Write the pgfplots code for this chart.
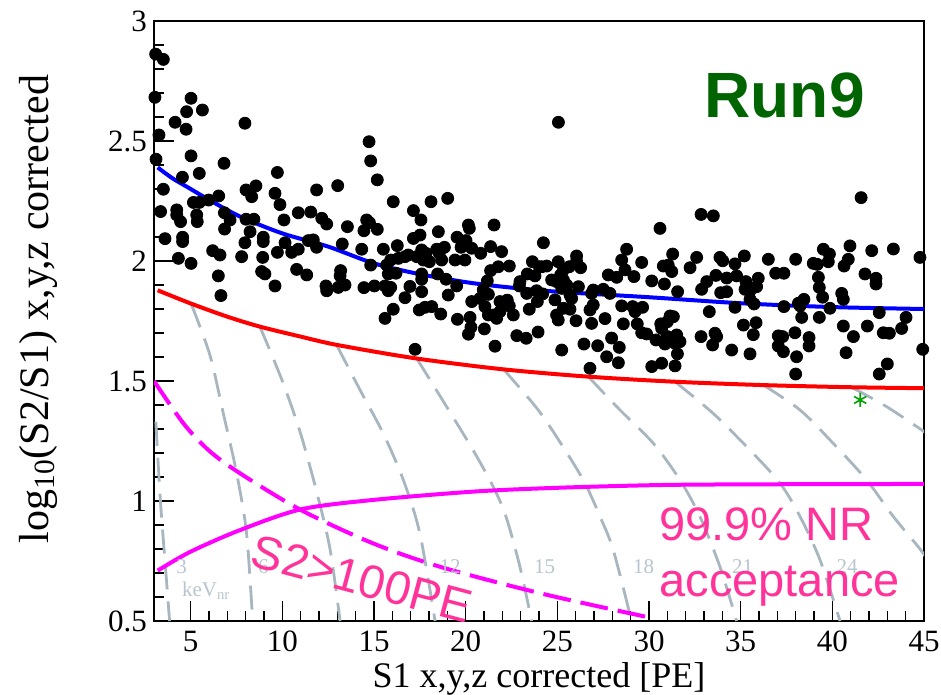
\documentclass[border=0pt]{standalone}
\usepackage{pgfplots}
\pgfplotsset{compat=1.18}
\usepackage{fontspec}
\setmainfont{Liberation Serif}
\newfontfamily\arialfont{Liberation Sans}
\definecolor{cblue}{RGB}{0,0,255}
\definecolor{cred}{RGB}{255,0,0}
\definecolor{cmag}{RGB}{255,0,255}
\definecolor{cgray}{RGB}{168,182,192}
\definecolor{clab}{RGB}{185,197,206}
\definecolor{cpink}{RGB}{255,51,153}
\definecolor{cdgreen}{RGB}{0,100,0}
\definecolor{cstar}{RGB}{0,160,0}
\pgfplotstableread{
x y
3.09 2.862
3.51 2.840
3.05 2.682
5.02 2.678
4.78 2.622
5.64 2.629
4.15 2.578
4.75 2.549
7.96 2.574
3.27 2.525
14.73 2.497
3.11 2.424
5.02 2.438
14.82 2.417
6.82 2.407
4.55 2.349
5.47 2.365
9.73 2.369
15.18 2.338
3.51 2.299
8.02 2.296
8.56 2.313
9.60 2.282
11.87 2.296
13.02 2.314
6.53 2.271
5.98 2.254
5.15 2.244
5.47 2.244
8.33 2.268
9.87 2.235
16.05 2.247
18.11 2.247
19.02 2.261
3.36 2.206
4.24 2.213
4.24 2.192
6.84 2.201
8.02 2.174
8.45 2.174
10.87 2.201
11.55 2.204
17.15 2.210
5.33 2.192
5.36 2.164
7.15 2.171
4.45 2.164
10.09 2.171
12.15 2.178
12.42 2.154
14.60 2.171
14.75 2.160
17.56 2.171
6.85 2.133
8.24 2.122
13.55 2.143
14.45 2.126
15.18 2.132
20.15 2.150
20.20 2.136
21.55 2.150
3.60 2.093
4.56 2.099
4.56 2.081
7.96 2.076
8.96 2.099
8.96 2.081
10.15 2.076
11.42 2.085
11.69 2.088
13.27 2.071
18.51 2.122
17.51 2.108
17.15 2.094
11.87 2.057
14.33 2.049
15.51 2.049
16.27 2.064
19.53 2.099
20.02 2.085
21.36 2.060
21.96 2.039
6.20 2.043
6.60 2.025
9.73 2.036
10.51 2.036
10.87 2.049
19.75 2.057
20.33 2.053
20.82 2.032
17.60 2.046
17.84 2.032
18.42 2.049
18.84 2.057
18.56 2.032
4.33 2.011
5.02 1.990
7.78 2.018
8.93 2.015
14.82 1.983
15.69 1.983
15.91 2.004
16.33 2.011
16.69 2.018
16.87 2.025
17.33 2.018
17.69 2.004
18.02 1.997
18.69 2.004
19.42 2.004
19.96 2.004
21.78 1.976
22.38 1.979
23.64 1.997
24.02 1.976
6.51 1.938
8.87 1.956
9.05 1.946
10.78 1.965
11.33 1.942
13.18 1.960
13.15 1.938
15.78 1.946
16.20 1.949
17.60 1.946
18.47 1.946
18.93 1.924
21.36 1.960
21.18 1.917
22.96 1.914
23.36 1.946
23.78 1.938
6.65 1.856
9.60 1.896
12.38 1.896
12.42 1.876
13.05 1.890
13.42 1.900
14.45 1.889
15.02 1.896
15.60 1.896
15.91 1.890
15.78 1.876
16.96 1.894
17.60 1.924
17.60 1.872
19.51 1.896
20.96 1.880
22.93 1.896
23.33 1.865
23.87 1.876
16.69 1.847
19.05 1.858
20.33 1.831
20.78 1.844
21.24 1.861
21.05 1.810
21.87 1.831
22.27 1.837
22.38 1.813
23.47 1.799
23.91 1.831
15.60 1.761
16.05 1.799
17.47 1.796
17.78 1.807
18.15 1.810
18.64 1.779
19.55 1.757
20.24 1.765
21.24 1.775
21.51 1.775
21.87 1.789
22.60 1.775
21.69 1.761
17.24 1.632
21.60 1.645
22.79 1.689
23.30 1.678
20.15 1.695
21.02 1.717
20.29 1.724
23.95 1.704
25.06 2.578
24.24 2.076
24.15 1.976
24.42 1.979
25.05 1.997
26.05 2.021
26.05 1.999
25.65 1.976
26.27 1.972
25.33 1.963
25.18 1.942
24.69 1.921
24.96 1.914
25.33 1.921
25.51 1.900
25.24 1.886
26.15 1.893
26.96 1.879
27.51 1.882
27.87 1.865
26.87 1.865
24.20 1.863
24.87 1.838
25.69 1.858
25.78 1.844
27.78 1.942
28.24 1.932
28.51 2.004
28.78 2.049
28.69 1.963
25.33 1.803
25.69 1.799
26.78 1.796
26.96 1.817
24.96 1.775
25.05 1.754
26.02 1.751
26.87 1.740
27.60 1.760
28.51 1.813
28.60 1.738
25.24 1.629
26.45 1.654
27.20 1.647
27.96 1.679
28.38 1.640
27.69 1.601
28.33 1.576
26.78 1.553
32.84 2.194
33.51 2.188
30.60 2.136
31.29 2.029
29.60 1.994
30.78 1.979
31.05 1.983
31.24 1.956
32.24 1.972
32.60 2.015
33.87 2.015
34.02 2.001
29.18 1.935
30.15 1.917
30.84 1.904
31.56 1.872
33.15 1.914
32.87 1.882
33.65 1.940
34.24 1.929
33.91 1.868
34.24 1.872
29.11 1.810
29.24 1.789
29.65 1.807
29.36 1.738
29.60 1.701
29.87 1.696
30.64 1.738
30.69 1.719
31.15 1.771
31.33 1.768
31.00 1.747
30.38 1.671
30.87 1.654
31.00 1.685
31.51 1.692
31.69 1.664
31.42 1.657
31.55 1.613
32.84 1.685
33.60 1.699
33.69 1.685
33.47 1.650
33.29 1.789
30.15 1.560
30.69 1.574
31.42 1.563
41.57 2.264
35.20 2.021
34.69 1.988
36.51 2.007
38.00 2.007
39.51 2.049
39.84 2.029
39.78 1.997
40.96 2.063
40.87 2.007
40.64 1.979
42.15 2.043
43.33 2.050
44.78 2.015
38.96 1.990
39.18 1.986
36.91 1.949
37.36 1.949
34.78 1.938
35.96 1.928
35.29 1.914
35.87 1.893
35.24 1.882
35.51 1.876
39.24 1.932
39.29 1.890
39.47 1.849
40.51 1.865
40.60 1.840
41.78 1.946
42.38 1.928
42.38 1.904
35.51 1.840
35.73 1.821
34.69 1.807
37.36 1.810
38.15 1.824
38.45 1.840
38.24 1.813
39.87 1.803
38.33 1.765
39.29 1.765
42.56 1.785
44.02 1.765
35.15 1.733
35.84 1.743
35.69 1.693
40.60 1.729
41.91 1.729
42.78 1.701
43.11 1.699
43.78 1.719
37.05 1.688
37.29 1.685
37.96 1.701
38.73 1.681
37.05 1.646
37.33 1.622
38.73 1.646
41.15 1.685
34.51 1.629
35.51 1.613
38.05 1.601
40.75 1.618
44.93 1.632
43.00 1.571
42.56 1.529
38.00 1.529
}\events
\begin{document}
\begin{tikzpicture}
\useasboundingbox (-77pt,-37pt) rectangle (393.5pt,310.5pt);
\begin{axis}[
  scale only axis, width=385pt, height=300pt,
  xmin=3, xmax=45, ymin=0.5, ymax=3,
  xtick={5,10,...,45}, ytick={0.5,1,1.5,2,2.5,3},
  minor x tick num=4, minor y tick num=4,
  xtick pos=bottom, ytick pos=left, tick align=inside,
  major tick length=10pt, minor tick length=5pt,
  major tick style={draw=black, line width=0.8pt},
  minor tick style={draw=black, line width=0.8pt},
  axis line style={line width=0.75pt,black},
  /pgf/number format/assume math mode=true,
  tick label style={font=\fontsize{15.5}{17}\selectfont},
  xticklabel style={yshift=-1.5pt},
  xlabel={S1 x,y,z corrected [PE]},
  ylabel={log\textsubscript{10}(S2/S1) x,y,z corrected},
  xlabel style={at={(axis description cs:0.5,0)}, anchor=base, yshift=-33pt, font=\fontsize{18}{20}\selectfont},
  ylabel style={at={(axis description cs:-0.150,0.52)}, anchor=center, font=\fontsize{21}{24}\selectfont},
  clip=true,
]
% energy contours
\addplot[cgray, line width=1.4pt, dash pattern=on 12pt off 6pt, smooth] coordinates {(3.1,1.33) (3.35,1.0) (3.6,0.75) (3.85,0.5)};
\addplot[cgray, line width=1.4pt, dash pattern=on 12pt off 6pt, smooth] coordinates {(5.05,1.817) (6.05,1.608) (6.78,1.365) (7.51,1.115) (8.05,0.865) (8.38,0.5)};
\addplot[cgray, line width=1.4pt, dash pattern=on 12pt off 6pt, smooth] coordinates {(8.78,1.726) (10.0,1.50) (11.0,1.28) (11.9,1.03) (12.6,0.80) (13.15,0.5)};
\addplot[cgray, line width=1.4pt, dash pattern=on 12pt off 6pt, smooth] coordinates {(12.96,1.65) (14.24,1.4625) (15.5,1.282) (16.6,1.0875) (17.5,0.865) (18.33,0.5)};
\addplot[cgray, line width=1.4pt, dash pattern=on 12pt off 6pt, smooth] coordinates {(17.33,1.594) (18.96,1.393) (20.4,1.2125) (21.5,1.06) (22.2,0.935) (22.96,0.726) (23.6,0.5)};
\addplot[cgray, line width=1.4pt, dash pattern=on 12pt off 6pt, smooth] coordinates {(22.06,1.549) (23.96,1.379) (25.42,1.2125) (26.51,1.074) (27.33,0.935) (28.05,0.796) (29.05,0.5)};
\addplot[cgray, line width=1.4pt, dash pattern=on 12pt off 6pt, smooth] coordinates {(26.69,1.518) (28.42,1.379) (30.24,1.24) (31.69,1.0875) (32.78,0.935) (33.87,0.726) (34.78,0.5)};
\addplot[cgray, line width=1.4pt, dash pattern=on 12pt off 6pt, smooth] coordinates {(31.42,1.497) (33.5,1.365) (35.5,1.2125) (37.15,1.074) (38.24,0.935) (39.33,0.754) (40.42,0.5)};
\addplot[cgray, line width=1.4pt, dash pattern=on 12pt off 6pt, smooth] coordinates {(36.24,1.483) (38.24,1.379) (40.05,1.24) (41.87,1.0875) (43.33,0.935) (44.96,0.782) (45.5,0.7)};
\addplot[cgray, line width=1.4pt, dash pattern=on 12pt off 6pt, smooth] coordinates {(41.05,1.474) (42.96,1.393) (44.87,1.296) (45.5,1.26)};
% events
\addplot[only marks, mark=*, mark size=3pt, black] table[x=x,y=y] {\events};
% curves
\addplot[cmag, line width=2pt, dash pattern=on 14pt off 5pt, smooth] coordinates {(3,1.50) (4.6,1.324) (6,1.21) (7.7,1.115) (11,0.963) (14.9,0.825) (18.6,0.726) (24.1,0.615) (30,0.515)};
\addplot[cmag, line width=2pt, smooth] coordinates {(3.2,0.71) (5,0.789) (7.7,0.879) (11,0.965) (14.9,1.004) (20.4,1.039) (25,1.055) (31,1.067) (38,1.07) (45,1.071)};
\addplot[cred, line width=2pt, smooth] coordinates {(3.2,1.878) (5,1.823) (7,1.768) (8.8,1.726) (11,1.685) (13,1.65) (17.3,1.594) (22,1.549) (26.7,1.518) (31.4,1.497) (36.2,1.483) (41,1.474) (45,1.470)};
\addplot[cblue, line width=2pt, smooth] coordinates {(3.2,2.39) (4,2.345) (5,2.30) (6,2.255) (7.7,2.185) (10,2.115) (12.5,2.06) (15,1.99) (17.5,1.945) (20,1.912) (22,1.893) (25,1.872) (30,1.849) (35,1.824) (40,1.808) (45,1.80)};
\addplot[only marks, mark=asterisk, mark size=3.5pt, cstar, thick] coordinates {(41.52,1.421)};
% energy labels
\node[text=clab, font=\fontsize{10.5}{12}\selectfont] at (axis cs:4.51,0.725) {3};
\node[text=clab, font=\fontsize{10.5}{12}\selectfont, anchor=west] at (axis cs:4.15,0.625) {keV\textsubscript{nr}};
\node[text=clab, font=\fontsize{10.5}{12}\selectfont] at (axis cs:8.97,0.726) {6};
\node[text=clab, font=\fontsize{10.5}{12}\selectfont] at (axis cs:19.15,0.726) {12};
\node[text=clab, font=\fontsize{10.5}{12}\selectfont] at (axis cs:24.3,0.726) {15};
\node[text=clab, font=\fontsize{10.5}{12}\selectfont] at (axis cs:29.7,0.726) {18};
\node[text=clab, font=\fontsize{10.5}{12}\selectfont] at (axis cs:35.1,0.726) {21};
\node[text=clab, font=\fontsize{10.5}{12}\selectfont] at (axis cs:40.8,0.726) {24};
% texts
\node[text=cdgreen, font=\arialfont\bfseries\fontsize{32}{36}\selectfont] at (axis cs:37.4,2.69) {Run9};
\node[text=cpink, font=\arialfont\fontsize{23.5}{26}\selectfont, anchor=base west, inner sep=0pt] at (axis cs:30.55,0.835) {99.9\% NR};
\node[text=cpink, font=\arialfont\fontsize{23.5}{26}\selectfont, anchor=base west, inner sep=0pt] at (axis cs:30.55,0.601) {acceptance};
\node[text=cpink, font=\arialfont\fontsize{23.5}{26}\selectfont, rotate=-15] at (axis cs:14.35,0.675) {S2>100PE};
\end{axis}
\end{tikzpicture}
\end{document}
